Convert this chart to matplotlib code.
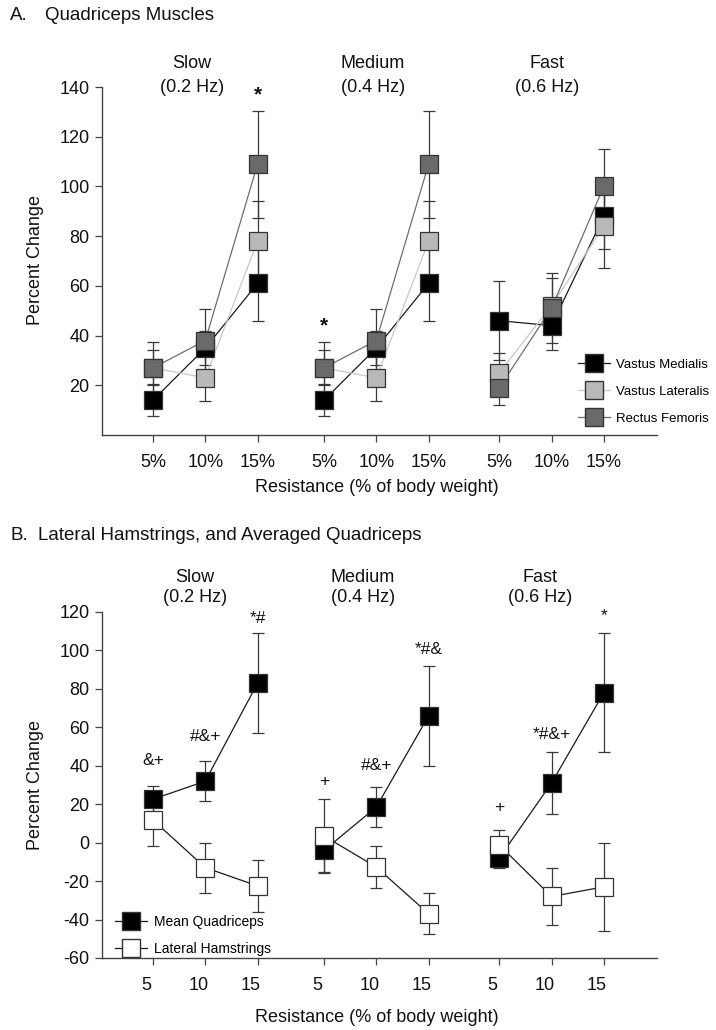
import matplotlib
matplotlib.use('Agg')
import matplotlib.pyplot as plt
import matplotlib.transforms as mtransforms
from matplotlib.lines import Line2D

plt.rcParams['font.family'] = ['Liberation Sans', 'DejaVu Sans']
plt.rcParams['axes.unicode_minus'] = False

# ---------------- data ----------------
speeds = ['Slow', 'Medium', 'Fast']
speed_hz = ['(0.2 Hz)', '(0.4 Hz)', '(0.6 Hz)']
resist_a = ['5%', '10%', '15%']
resist_b = ['5', '10', '15']

# Panel A: quadriceps muscles (slow x3, medium x3, fast x3)
vm_mean = [14, 35, 61, 14, 35, 61, 46, 44, 88]
vm_err = [6.5, 7, 15, 6.5, 7, 15, 16, 10, 13]
vl_mean = [27, 23, 78, 27, 23, 78, 25, 52, 84]
vl_err = [7, 9.5, 16, 7, 9.5, 16, 7.8, 11, 17]
rf_mean = [27, 38, 109, 27, 38, 109, 19, 51, 100]
rf_err = [10.5, 12.5, 21.5, 10.5, 12.5, 21.5, 7, 14, 15]
a_sig_labels = ['*', '*']
a_sig_index = [2, 3]
a_sig_y = [136.8, 44]

# Panel B: mean quadriceps and lateral hamstrings
mq_mean = [22.6, 32, 83, -4, 18.5, 66, -8, 31, 78]
mq_err = [7, 10.3, 26, 11.7, 10.3, 26, 5, 16.3, 31]
lh_mean = [11.8, -13, -22.5, 3.5, -12.7, -37, -1.2, -28, -23]
lh_err = [13.5, 13, 13.5, 19, 11, 10.7, 7.8, 15, 23]
b_sig_labels = ['&+', '#&+', '*#', '+', '#&+', '*#&', '+', '*#&+', '*']
b_sig_y = [42.6, 55.1, 116.7, 31.8, 40.2, 100.5, 18.1, 56.2, 117.9]

# ---------------- layout ----------------
W, H = 716, 1030
fig = plt.figure(figsize=(W / 100, H / 100), dpi=100)


def fx(px):
    return px / W


def fy(py):
    return 1 - py / H


group_offsets = [0, 3.27, 6.62]
xpos = [g + i for g in group_offsets for i in range(3)]
XLIM = (-0.975, 9.637)
AX_COL = '#444444'

axA = fig.add_axes([fx(102), fy(435), fx(657) - fx(102), fy(87) - fy(435)])
axB = fig.add_axes([fx(102), fy(958), fx(657) - fx(102), fy(612) - fy(958)])


def style(ax):
    for s in ['top', 'right']:
        ax.spines[s].set_visible(False)
    for s in ['left', 'bottom']:
        ax.spines[s].set_color(AX_COL)
        ax.spines[s].set_linewidth(1.0)
    ax.tick_params(direction='out', length=5, width=0.9, color=AX_COL,
                   labelsize=13, labelcolor='#111111')
    ax.tick_params(axis='x', pad=9)
    ax.tick_params(axis='y', pad=4)
    ax.set_xlim(*XLIM)
    ax.set_xticks(xpos)


def plot_series(ax, mean, err, face, linecolor, z, lw=0.9):
    for g in range(3):
        sl = slice(3 * g, 3 * g + 3)
        ax.errorbar(xpos[sl], mean[sl], yerr=err[sl], fmt='none',
                    ecolor='#3a3a3a', elinewidth=0.9, capsize=4.5,
                    capthick=0.9, zorder=1)
        ax.plot(xpos[sl], mean[sl], '-', color=linecolor, lw=lw, zorder=2)
        ax.plot(xpos[sl], mean[sl], 's', ms=13, mfc=face, mec='#333333',
                mew=0.9, zorder=z, ls='none')


# ---------------- Panel A ----------------
style(axA)
axA.set_ylim(0, 140)
axA.set_yticks(range(20, 141, 20))
axA.set_xticklabels(resist_a * 3)

VM_FACE, VL_FACE, RF_FACE = '#000000', '#b9b9b9', '#6a6a6a'
plot_series(axA, vm_mean, vm_err, VM_FACE, '#1a1a1a', 3)
plot_series(axA, vl_mean, vl_err, VL_FACE, '#c8c8c8', 4)
plot_series(axA, rf_mean, rf_err, RF_FACE, '#6e6e6e', 5)

for lab, idx, yv in zip(a_sig_labels, a_sig_index, a_sig_y):
    axA.text(xpos[idx], yv, lab, ha='center', va='center', fontsize=15,
             fontweight='bold', color='#111111')

hA = [Line2D([], [], color='#1a1a1a', lw=0.9, marker='s', ms=13, mfc=VM_FACE, mec='#333333'),
      Line2D([], [], color='#c8c8c8', lw=0.9, marker='s', ms=13, mfc=VL_FACE, mec='#333333'),
      Line2D([], [], color='#6e6e6e', lw=0.9, marker='s', ms=13, mfc=RF_FACE, mec='#333333')]
axA.legend(hA, ['Vastus Medialis', 'Vastus Lateralis', 'Rectus Femoris'],
           loc='upper left', bbox_to_anchor=(0.8577, 0.219), frameon=False,
           fontsize=9.5, handlelength=2.4, handletextpad=0.5,
           labelspacing=1.12, borderpad=0, borderaxespad=0)

# ---------------- Panel B ----------------
style(axB)
axB.set_ylim(-60, 120)
axB.set_yticks(range(-60, 121, 20))
axB.set_xticklabels(resist_b * 3)
shift = mtransforms.ScaledTranslation(-7 / 100, 0, fig.dpi_scale_trans)
for lbl in axB.get_xticklabels():
    lbl.set_transform(lbl.get_transform() + shift)

plot_series(axB, mq_mean, mq_err, '#000000', '#1a1a1a', 3)
plot_series(axB, lh_mean, lh_err, '#ffffff', '#1a1a1a', 4)

for lab, xv, yv in zip(b_sig_labels, xpos, b_sig_y):
    axB.text(xv, yv, lab, ha='center', va='center', fontsize=12.5,
             color='#111111')

hB = [Line2D([], [], color='#1a1a1a', lw=0.9, marker='s', ms=13, mfc='#000000', mec='#333333'),
      Line2D([], [], color='#1a1a1a', lw=0.9, marker='s', ms=13, mfc='#ffffff', mec='#333333')]
axB.legend(hB, ['Mean Quadriceps', 'Lateral Hamstrings'],
           loc='upper left', bbox_to_anchor=(0.0234, 0.1255), frameon=False,
           fontsize=10, handlelength=2.3, handletextpad=0.5,
           labelspacing=0.96, borderpad=0, borderaxespad=0)

# ---------------- text ----------------
TXT = '#111111'
fig.text(fx(10), fy(15), 'A.', fontsize=13.5, va='center', ha='left', color=TXT)
fig.text(fx(45), fy(15), 'Quadriceps Muscles', fontsize=13.5, va='center', ha='left', color=TXT)
fig.text(fx(10), fy(535), 'B.', fontsize=13.5, va='center', ha='left', color=TXT)
fig.text(fx(38), fy(535), 'Lateral Hamstrings, and Averaged Quadriceps', fontsize=13.5,
         va='center', ha='left', color=TXT)

titleA_x = [192, 373, 547]
titleB_x = [195, 363, 540]
for sp, hz, xa, xb in zip(speeds, speed_hz, titleA_x, titleB_x):
    fig.text(fx(xa), fy(64), sp, fontsize=13, ha='center', va='center', color=TXT)
    fig.text(fx(xa), fy(87), hz, fontsize=13, ha='center', va='center', color=TXT)
    fig.text(fx(xb), fy(577), sp, fontsize=13, ha='center', va='center', color=TXT)
    fig.text(fx(xb), fy(597), hz, fontsize=13, ha='center', va='center', color=TXT)

for yl in (260, 785):
    fig.text(fx(36), fy(yl), 'Percent Change', rotation=90, fontsize=13,
             ha='center', va='center', color=TXT)
fig.text(fx(377), fy(488), 'Resistance (% of body weight)', fontsize=13,
         ha='center', va='center', color=TXT)
fig.text(fx(377), fy(1018), 'Resistance (% of body weight)', fontsize=13,
         ha='center', va='center', color=TXT)

fig.savefig('out.png', dpi=100, facecolor='white')
